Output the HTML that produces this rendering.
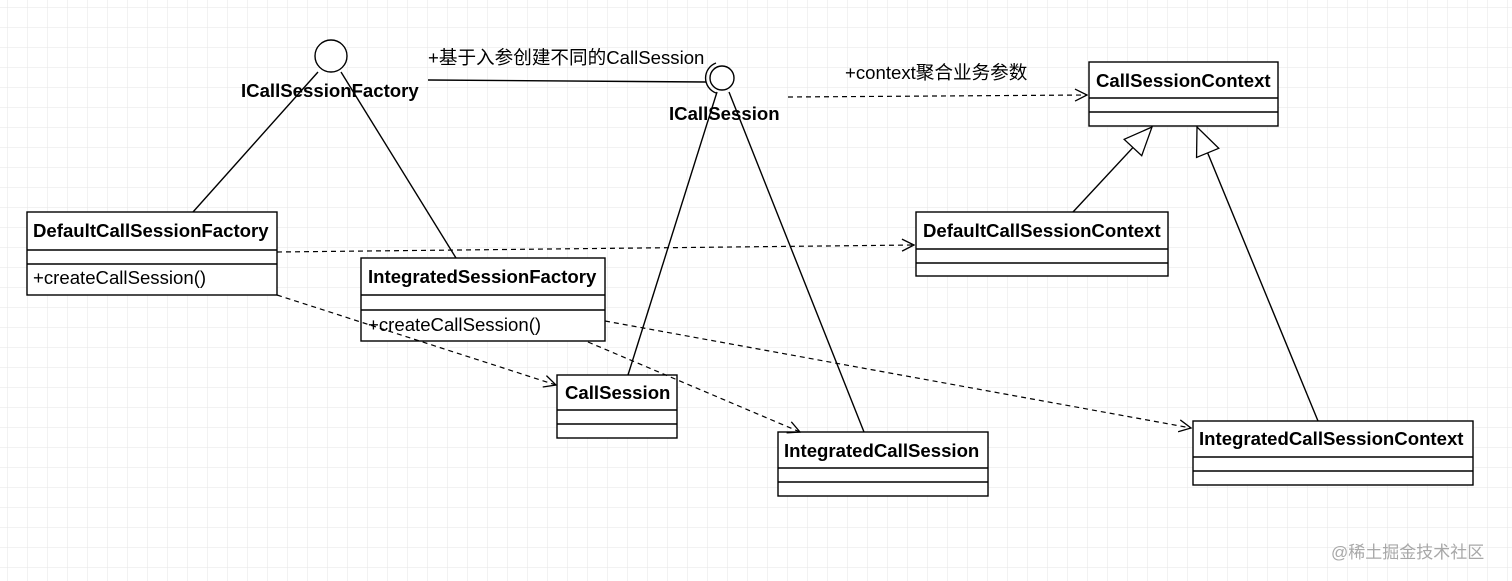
<!DOCTYPE html>
<html><head><meta charset="utf-8"><style>
html,body{margin:0;padding:0;background:#fff}
svg{display:block}
text{font-family:"Liberation Sans","Noto Sans CJK SC",sans-serif;fill:#000}
.b{font-weight:bold;font-size:18.6px}
.n{font-size:18.6px}
</style></head><body>
<svg width="1512" height="581" xmlns="http://www.w3.org/2000/svg">
<defs>
<pattern id="g" width="20" height="20" patternUnits="userSpaceOnUse" x="7" y="7">
<path d="M20 0H0V20" fill="none" stroke="#e6e6e6" stroke-width="1"/>
</pattern>
<marker id="o" viewBox="0 0 14 14" refX="13" refY="7" markerWidth="14" markerHeight="14" markerUnits="userSpaceOnUse" orient="auto">
<path d="M1 1L13 7L1 13" fill="none" stroke="#000" stroke-width="1.3"/>
</marker>
<marker id="t" viewBox="0 0 30 30" refX="29" refY="15" markerWidth="30" markerHeight="30" markerUnits="userSpaceOnUse" orient="auto">
<path d="M1 3L29 15L1 27Z" fill="#fff" stroke="#000" stroke-width="1.3"/>
</marker>
</defs>
<rect width="1512" height="581" fill="url(#g)"/>
<g fill="none" stroke="#000" stroke-width="1.4">
<line x1="318" y1="72" x2="193" y2="212"/>
<line x1="341" y1="72" x2="456" y2="258"/>
<line x1="428" y1="80" x2="706" y2="82"/>
<line x1="717" y1="92" x2="628" y2="375"/>
<line x1="729" y1="92" x2="864" y2="432"/>
<circle cx="331" cy="56" r="16" fill="#fff"/>
<circle cx="722" cy="78" r="12" fill="#fff"/>
<path d="M716 63 A16 16 0 0 0 716 93"/>
<line x1="1073" y1="212" x2="1152" y2="127" marker-end="url(#t)"/>
<line x1="1318" y1="421" x2="1197" y2="127" marker-end="url(#t)"/>
</g>
<g fill="#fff" stroke="#000" stroke-width="1.4">
<rect x="27" y="212" width="250" height="83"/><line x1="27" y1="250" x2="277" y2="250"/><line x1="27" y1="264" x2="277" y2="264"/>
<rect x="361" y="258" width="244" height="83"/><line x1="361" y1="295" x2="605" y2="295"/><line x1="361" y1="310" x2="605" y2="310"/>
<rect x="557" y="375" width="120" height="63"/><line x1="557" y1="410" x2="677" y2="410"/><line x1="557" y1="424" x2="677" y2="424"/>
<rect x="778" y="432" width="210" height="64"/><line x1="778" y1="468" x2="988" y2="468"/><line x1="778" y1="482" x2="988" y2="482"/>
<rect x="1089" y="62" width="189" height="64"/><line x1="1089" y1="98" x2="1278" y2="98"/><line x1="1089" y1="112" x2="1278" y2="112"/>
<rect x="916" y="212" width="252" height="64"/><line x1="916" y1="249" x2="1168" y2="249"/><line x1="916" y1="263" x2="1168" y2="263"/>
<rect x="1193" y="421" width="280" height="64"/><line x1="1193" y1="457" x2="1473" y2="457"/><line x1="1193" y1="471" x2="1473" y2="471"/>
</g>
<g fill="none" stroke="#000" stroke-dasharray="5,4" stroke-width="1.2">
<line x1="788" y1="97" x2="1087" y2="95" marker-end="url(#o)"/>
<line x1="277" y1="252" x2="914" y2="245" marker-end="url(#o)"/>
<line x1="277" y1="295" x2="556" y2="385" marker-end="url(#o)"/>
<line x1="588" y1="342" x2="800" y2="432" marker-end="url(#o)"/>
<line x1="605" y1="321" x2="1191" y2="428" marker-end="url(#o)"/>
</g>
<text class="b" x="33" y="237">DefaultCallSessionFactory</text>
<text class="n" x="33" y="284">+createCallSession()</text>
<text class="b" x="368" y="283">IntegratedSessionFactory</text>
<text class="n" x="368" y="331">+createCallSession()</text>
<text class="b" x="565" y="399">CallSession</text>
<text class="b" x="784" y="457">IntegratedCallSession</text>
<text class="b" x="1096" y="87">CallSessionContext</text>
<text class="b" x="923" y="237">DefaultCallSessionContext</text>
<text class="b" x="1199" y="445">IntegratedCallSessionContext</text>
<text class="b" x="241" y="97">ICallSessionFactory</text>
<text class="b" x="669" y="120">ICallSession</text>
<text class="n" x="428" y="64">+基于入参创建不同的CallSession</text>
<text class="n" x="845" y="79">+context聚合业务参数</text>
<text x="1331" y="558" style="font-size:17px;fill:#a8a8a8">@稀土掘金技术社区</text>
</svg>
</body></html>
